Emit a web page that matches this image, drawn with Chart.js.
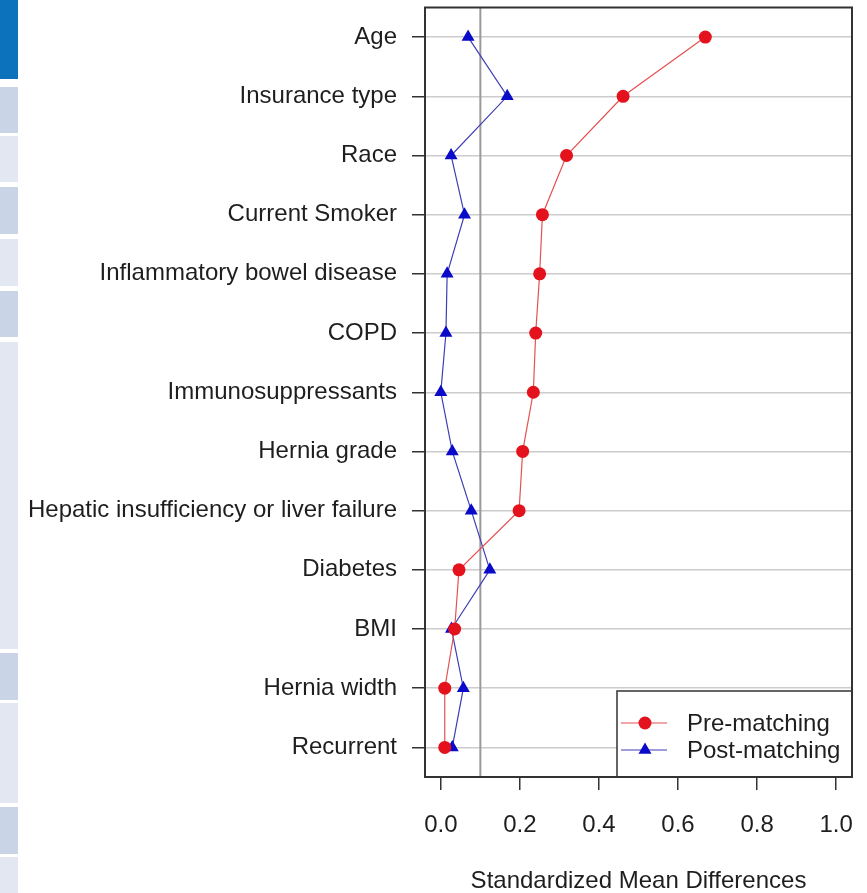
<!DOCTYPE html>
<html>
<head>
<meta charset="utf-8">
<script src="https://cdn.jsdelivr.net/npm/chart.js@4/dist/chart.umd.min.js"></script>
<style>
  html, body { margin: 0; padding: 0; background: #ffffff; }
  #wrap { position: relative; width: 867px; height: 893px; overflow: hidden; }
  canvas { position: absolute; left: 0; top: 0; }
  .sb { position: absolute; left: 0; width: 18px; }
</style>
</head>
<body>
<div id="wrap">
  <canvas id="c" width="867" height="893"></canvas>
  <div class="sb" style="top:0;height:79px;background:#0b72bb"></div>
  <div class="sb" style="top:87px;height:46px;background:#c9d4e7"></div>
  <div class="sb" style="top:136px;height:46px;background:#e2e7f2"></div>
  <div class="sb" style="top:187px;height:47px;background:#c9d4e7"></div>
  <div class="sb" style="top:239px;height:47px;background:#e2e7f2"></div>
  <div class="sb" style="top:291px;height:46px;background:#c9d4e7"></div>
  <div class="sb" style="top:342px;height:307px;background:#e2e7f2"></div>
  <div class="sb" style="top:653px;height:47px;background:#c9d4e7"></div>
  <div class="sb" style="top:703px;height:100px;background:#e2e7f2"></div>
  <div class="sb" style="top:807px;height:47px;background:#c9d4e7"></div>
  <div class="sb" style="top:857px;height:36px;background:#e2e7f2"></div>
</div>
<script>
const categories = [
  "Age", "Insurance type", "Race", "Current Smoker", "Inflammatory bowel disease",
  "COPD", "Immunosuppressants", "Hernia grade", "Hepatic insufficiency or liver failure",
  "Diabetes", "BMI", "Hernia width", "Recurrent"
];
const preMatching  = [0.669, 0.461, 0.318, 0.257, 0.250, 0.240, 0.234, 0.207, 0.198, 0.046, 0.035, 0.010, 0.010];
const postMatching = [0.069, 0.168, 0.026, 0.060, 0.016, 0.013, 0.000, 0.029, 0.077, 0.124, 0.027, 0.057, 0.029];
const xTicks = [0, 0.2, 0.4, 0.6, 0.8, 1.0];
const threshold = 0.1;
const seriesNames = ["Pre-matching", "Post-matching"];
const xTitle = "Standardized Mean Differences";

const FONT = "'Liberation Sans', Arial, sans-serif";
const TEXT = "#1e1e1e";

const framePlugin = {
  id: 'frame',
  beforeDatasetsDraw(chart) {
    const {ctx, chartArea: a, scales} = chart;
    const x = scales.x.getPixelForValue(threshold);
    ctx.save();
    ctx.strokeStyle = '#9a9a9a';
    ctx.lineWidth = 2;
    ctx.beginPath();
    ctx.moveTo(x, a.top);
    ctx.lineTo(x, a.bottom);
    ctx.stroke();
    ctx.restore();
  },
  afterDatasetsDraw(chart) {
    const {ctx, chartArea: a} = chart;
    ctx.save();
    const lw = 235, lh = 86;
    const lx = a.right - lw, ly = a.bottom - lh;
    ctx.fillStyle = '#ffffff';
    ctx.fillRect(lx, ly, lw, lh);
    ctx.strokeStyle = '#333';
    ctx.lineWidth = 1.5;
    ctx.strokeRect(lx, ly, lw, lh);
    chart.data.datasets.forEach((ds, i) => {
      const cy = ly + 32 + i * 27;
      const px = lx + 28;
      ctx.strokeStyle = ds.borderColor;
      ctx.lineWidth = ds.borderWidth;
      ctx.beginPath();
      ctx.moveTo(lx + 4, cy);
      ctx.lineTo(lx + 50, cy);
      ctx.stroke();
      ctx.fillStyle = ds.pointBackgroundColor;
      ctx.beginPath();
      if (ds.pointStyle === 'circle') {
        ctx.arc(px, cy, ds.pointRadius, 0, Math.PI * 2);
      } else {
        const r = ds.pointRadius;
        ctx.moveTo(px, cy - r);
        ctx.lineTo(px + r * 0.87, cy + r * 0.5);
        ctx.lineTo(px - r * 0.87, cy + r * 0.5);
        ctx.closePath();
      }
      ctx.fill();
      ctx.fillStyle = TEXT;
      ctx.font = "24px " + FONT;
      ctx.textBaseline = 'middle';
      ctx.textAlign = 'left';
      ctx.fillText(ds.label, lx + 70, cy + 1);
    });
    ctx.strokeStyle = '#333';
    ctx.lineWidth = 2;
    ctx.strokeRect(a.left, a.top, a.right - a.left, a.bottom - a.top);
    ctx.restore();
  }
};

new Chart(document.getElementById('c'), {
  type: 'line',
  data: {
    labels: categories,
    datasets: [
      {
        label: seriesNames[0],
        data: preMatching,
        borderColor: '#e65050',
        borderWidth: 1.2,
        pointStyle: 'circle',
        pointRadius: 6.5,
        pointBackgroundColor: '#e3121c',
        pointBorderColor: '#e3121c',
        pointBorderWidth: 0,
        tension: 0
      },
      {
        label: seriesNames[1],
        data: postMatching,
        borderColor: '#3e3eb6',
        borderWidth: 1.2,
        pointStyle: 'triangle',
        pointRadius: 7.5,
        pointBackgroundColor: '#0a0ac8',
        pointBorderColor: '#0a0ac8',
        pointBorderWidth: 0,
        tension: 0
      }
    ]
  },
  options: {
    indexAxis: 'y',
    responsive: false,
    animation: false,
    devicePixelRatio: 1,
    layout: { padding: { top: 7, right: 15, left: 0, bottom: 0 } },
    plugins: { legend: { display: false }, tooltip: { enabled: false } },
    scales: {
      y: {
        type: 'category',
        offset: true,
        border: { display: false },
        grid: {
          offset: false,
          color: '#cccccc',
          lineWidth: 1.5,
          tickColor: '#333',
          tickLength: 13,
          drawOnChartArea: true
        },
        ticks: { font: { family: FONT, size: 24 }, color: TEXT, padding: 15, autoSkip: false },
        afterFit(scale) {
          scale.width = 425;
          scale.paddingTop = 0;
          scale.paddingBottom = 0;
        }
      },
      x: {
        type: 'linear',
        min: -0.04,
        max: 1.04,
        border: { display: false },
        afterBuildTicks(scale) { scale.ticks = xTicks.map(v => ({ value: v })); },
        grid: { drawOnChartArea: false, tickColor: '#333', tickLength: 13, lineWidth: 1.5 },
        ticks: {
          font: { family: FONT, size: 24 }, color: TEXT, padding: 21,
          callback: v => Number(v).toFixed(1)
        },
        title: {
          display: true, text: xTitle,
          font: { family: FONT, size: 24 }, color: TEXT,
          padding: { top: 0, bottom: -3 }
        },
        afterFit(scale) {
          scale.height = 893 - 777;
          scale.paddingLeft = 0;
          scale.paddingRight = 0;
        }
      }
    }
  },
  plugins: [framePlugin]
});
</script>
</body>
</html>
